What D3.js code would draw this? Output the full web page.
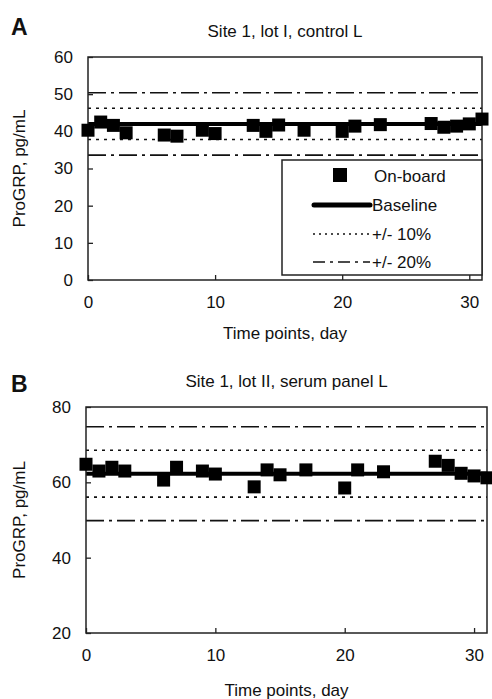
<!DOCTYPE html>
<html>
<head>
<meta charset="utf-8">
<script src="https://cdn.jsdelivr.net/npm/d3@7"></script>
<style>
  body { margin: 0; background: #fff; }
  text { font-family: "Liberation Sans", Arial, sans-serif; fill: #111; }
  .axis path.domain { display: none; }
  .axis line { stroke: #222; stroke-width: 1.3; }
  .axis text { font-size: 17px; }
</style>
</head>
<body>
<div id="chart"></div>
<script>
// data
var days = [0, 1, 2, 3, 6, 7, 9, 10, 13, 14, 15, 17, 20, 21, 23, 27, 28, 29, 30, 31];
var valuesA = [40.3, 42.5, 41.6, 39.6, 39.0, 38.7, 40.3, 39.4, 41.6, 40.0, 41.7, 40.3, 40.0, 41.4, 41.8, 42.1, 41.1, 41.4, 42.0, 43.3];
var valuesB = [64.8, 63.0, 64.0, 63.0, 60.6, 64.0, 63.0, 62.2, 58.8, 63.3, 62.0, 63.3, 58.5, 63.3, 62.8, 65.6, 64.5, 62.4, 61.7, 61.2];
var baselineA = 42.0;
var baselineB = 62.3;
var xTicks = [0, 10, 20, 30];
var yTicksA = [0, 10, 20, 30, 40, 50, 60];
var yTicksB = [20, 40, 60, 80];
var legendLabels = ["On-board", "Baseline", "+/- 10%", "+/- 20%"];

var W = 492, H = 699;
var svg = d3.select("#chart").append("svg").attr("width", W).attr("height", H);

var dash10 = "3,5", dash20 = "18,5,3,5";

function panel(opt) {
  var x = d3.scaleLinear().domain([0, 31]).range([opt.left, opt.right]);
  var y = d3.scaleLinear().domain(opt.yDomain).range([opt.bottom, opt.top]);
  var g = svg.append("g");

  // letter + title
  g.append("text").attr("x", 11).attr("y", opt.letterY)
    .style("font-size", "23px").style("font-weight", "bold").text(opt.letter);
  g.append("text").attr("x", (opt.left + opt.right) / 2).attr("y", opt.top - 20)
    .attr("text-anchor", "middle").style("font-size", "17px").text(opt.title);

  // limit lines
  var lines = [
    {v: opt.base * 1.2, dash: dash20},
    {v: opt.base * 1.1, dash: dash10},
    {v: opt.base * 0.9, dash: dash10},
    {v: opt.base * 0.8, dash: dash20}
  ];
  g.selectAll("line.lim").data(lines).enter().append("line")
    .attr("class", "lim")
    .attr("x1", opt.left).attr("x2", opt.right)
    .attr("y1", function(d) { return y(d.v); })
    .attr("y2", function(d) { return y(d.v); })
    .attr("stroke", "#111").attr("stroke-width", 1.6)
    .attr("stroke-dasharray", function(d) { return d.dash; });

  g.append("line")
    .attr("x1", opt.left).attr("x2", opt.right)
    .attr("y1", y(opt.base)).attr("y2", y(opt.base))
    .attr("stroke", "#000").attr("stroke-width", 4);

  // axes
  g.append("g").attr("class", "axis")
    .attr("transform", "translate(0," + opt.bottom + ")")
    .call(d3.axisBottom(x).tickValues(xTicks).tickSizeInner(-5).tickSizeOuter(0).tickPadding(16));
  g.append("g").attr("class", "axis")
    .attr("transform", "translate(" + opt.left + ",0)")
    .call(d3.axisLeft(y).tickValues(opt.yTicks).tickSizeInner(-5).tickSizeOuter(0).tickPadding(15));

  g.append("rect")
    .attr("x", opt.left).attr("y", opt.top)
    .attr("width", opt.right - opt.left).attr("height", opt.bottom - opt.top)
    .attr("fill", "none").attr("stroke", "#222").attr("stroke-width", 1.5);

  // points
  var s = 13;
  g.selectAll("rect.pt").data(days).enter().append("rect")
    .attr("class", "pt")
    .attr("x", function(d) { return x(d) - s / 2; })
    .attr("y", function(d, i) { return y(opt.values[i]) - s / 2; })
    .attr("width", s).attr("height", s)
    .attr("fill", "#000");

  // axis titles
  g.append("text").attr("x", (opt.left + opt.right) / 2).attr("y", opt.bottom + opt.xTitleGap)
    .attr("text-anchor", "middle").style("font-size", "17px").text("Time points, day");
  g.append("text")
    .attr("transform", "translate(25," + ((opt.top + opt.bottom) / 2) + ") rotate(-90)")
    .attr("text-anchor", "middle").style("font-size", "17px").text("ProGRP, pg/mL");

  return {g: g, x: x, y: y};
}

var pA = panel({letter: "A", letterY: 35, title: "Site 1, lot I, control L", left: 88, right: 482, top: 57, bottom: 280,
  yDomain: [0, 60], yTicks: yTicksA, values: valuesA, base: baselineA, xTitleGap: 59});
panel({letter: "B", letterY: 392, title: "Site 1, lot II, serum panel L", left: 86, right: 487, top: 407, bottom: 633,
  yDomain: [20, 80], yTicks: yTicksB, values: valuesB, base: baselineB, xTitleGap: 63});

// legend in panel A
var lg = pA.g.append("g").attr("transform", "translate(282,160)");
lg.append("rect").attr("width", 200).attr("height", 115)
  .attr("fill", "#fff").attr("stroke", "#222").attr("stroke-width", 1.5);
lg.append("rect").attr("x", 51).attr("y", 8).attr("width", 14).attr("height", 14).attr("fill", "#000");
lg.append("line").attr("x1", 32).attr("x2", 88).attr("y1", 45).attr("y2", 45)
  .attr("stroke", "#000").attr("stroke-width", 5).attr("stroke-linecap", "round");
lg.append("line").attr("x1", 31).attr("x2", 88).attr("y1", 74).attr("y2", 74)
  .attr("stroke", "#111").attr("stroke-width", 1.3).attr("stroke-dasharray", "2,4");
lg.append("line").attr("x1", 31).attr("x2", 88).attr("y1", 102).attr("y2", 102)
  .attr("stroke", "#111").attr("stroke-width", 1.5).attr("stroke-dasharray", "12,5,3,5");
lg.selectAll("text.lt").data(legendLabels).enter().append("text")
  .attr("class", "lt")
  .attr("x", function(d, i) { return i === 0 ? 92 : 90; })
  .attr("y", function(d, i) { return [16, 45, 74, 102][i]; })
  .attr("dy", "0.35em")
  .style("font-size", "17px")
  .text(function(d) { return d; });
</script>
</body>
</html>
